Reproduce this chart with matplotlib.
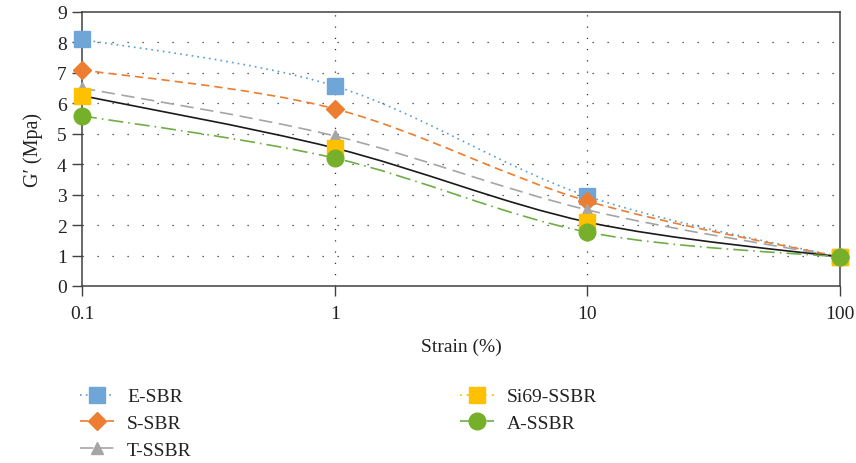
import numpy as np
import matplotlib
matplotlib.use("Agg")
import matplotlib.pyplot as plt
from matplotlib.path import Path
from matplotlib.patches import PathPatch
from matplotlib.lines import Line2D

plt.rcParams["font.family"] = ["Liberation Serif", "DejaVu Serif"]

# ── Data ──────────────────────────────────────────────────────────────────────
strain = [0.1, 1, 10, 100]
e_sbr = [8.1, 6.57, 2.95, 0.95]
s_sbr = [7.1, 5.82, 2.79, 0.95]
t_ssbr = [6.5, 4.93, 2.5, 0.95]
si69_ssbr = [6.25, 4.53, 2.1, 0.95]
a_ssbr = [5.59, 4.2, 1.77, 0.95]

names = ["E-SBR", "S-SBR", "T-SSBR", "Si69-SSBR", "A-SSBR"]
series = [e_sbr, s_sbr, t_ssbr, si69_ssbr, a_ssbr]

# style per series: (line colour, legend line colour, linestyle, marker, marker colour, size)
styles = [
    ("#5B9BD5", "#5B9BD5", (0, (1, 2.5)), "s", "#70A5D8", 12),
    ("#ED7D31", "#ED7D31", (0, (5, 3)), "D", "#ED7D31", 9.5),
    ("#A5A5A5", "#A5A5A5", (0, (8, 4)), "^", "#A5A5A5", 9),
    ("#1A1A1A", "#FFC000", "-", "s", "#FFC000", 12),
    ("#70AD47", "#70AD47", (0, (9, 3, 1, 3)), "o", "#76B02A", 12),
]


def smooth_path(x, y):
    # Excel-like smoothed line: cubic Bezier through the points (in log-x space)
    pts = np.column_stack([np.log10(x), y])
    verts = [pts[0]]
    codes = [Path.MOVETO]
    for i in range(len(pts) - 1):
        p0 = pts[i - 1] if i > 0 else pts[i]
        p1, p2 = pts[i], pts[i + 1]
        p3 = pts[i + 2] if i + 2 < len(pts) else pts[i + 1]
        verts += [p1 + (p2 - p0) / 6, p2 - (p3 - p1) / 6, p2]
        codes += [Path.CURVE4] * 3
    verts = np.array(verts)
    verts[:, 0] = 10 ** verts[:, 0]
    return Path(verts, codes)


fig = plt.figure(figsize=(8.56, 4.64), dpi=100)
ax = fig.add_axes([0.0958, 0.3815, 0.8855, 0.5905])

for vals, (lc, _, ls, mk, mc, ms) in zip(series, styles):
    ax.add_patch(PathPatch(smooth_path(strain, vals), fill=False,
                           edgecolor=lc, linestyle=ls, linewidth=1.2, zorder=3))
    ax.plot(strain, vals, linestyle="none", marker=mk, markersize=ms,
            markerfacecolor=mc, markeredgecolor=mc, zorder=4, clip_on=False)

ax.set_xscale("log")
ax.set_xlim(0.1, 100)
ax.set_ylim(0, 9)
ax.set_xticks(strain)
ax.set_xticklabels(["0.1", "1", "10", "100"])
ax.set_yticks(range(10))
ax.minorticks_off()
ax.tick_params(axis="both", labelsize=14, color="#404040", length=7,
               width=1, direction="out", labelcolor="#222222")
ax.tick_params(axis="x", pad=7)
ax.tick_params(axis="y", pad=4)

for y in range(1, 9):
    ax.axhline(y, color="#333333", linestyle=(0, (1, 11)), linewidth=0.9, zorder=1)
for x in [1, 10]:
    ax.axvline(x, color="#333333", linestyle=(0, (1, 8)), linewidth=0.9, zorder=1)

for sp in ax.spines.values():
    sp.set_color("#404040")
    sp.set_linewidth(1.1)

ax.set_xlabel("Strain (%)", fontsize=14, color="#222222", labelpad=11)
ax.set_ylabel("G′ (Mpa)", fontsize=14.5, color="#222222", labelpad=10)

handles = [
    Line2D([], [], color=lgc, linestyle=ls if lgc == lc else (0, (1, 3, 8, 3)),
           linewidth=1.2, marker=mk, markersize=ms,
           markerfacecolor=mc, markeredgecolor=mc)
    for (lc, lgc, ls, mk, mc, ms) in styles
]
fig.legend(handles, names, loc="upper left", bbox_to_anchor=(0.094, 0.162),
           ncol=2, frameon=False, fontsize=14, handlelength=1.75,
           handletextpad=0.65, columnspacing=13.8, labelspacing=0.46,
           borderaxespad=0, borderpad=0, labelcolor="#222222")

fig.savefig("out.png", dpi=100, facecolor="white")
